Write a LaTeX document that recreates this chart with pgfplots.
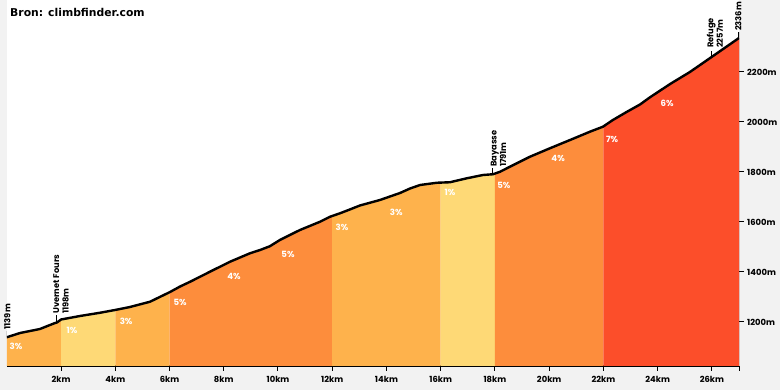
\documentclass[border=0pt]{standalone}
\usepackage{pgfplots}
\pgfplotsset{compat=1.18}
\usepackage{pgfplotstable}
\usepackage{fontspec}
\setmainfont{Poppins}
\newfontfamily\titlefont{DejaVu Sans}
\definecolor{bgc}{HTML}{F2F2F2}
\definecolor{cA}{HTML}{FEB24C}
\definecolor{cB}{HTML}{FED976}
\definecolor{cC}{HTML}{FD8D3C}
\definecolor{cD}{HTML}{FC4E2A}
\tikzset{wp/.style={rotate=90, font=\fontsize{8.3}{9.3}\selectfont\bfseries, inner sep=0pt, align=left, anchor=west, text=black}}

\pgfplotstableread{
km m
0 1139
0.49 1156
1.22 1172
1.78 1196
1.85 1198
2.0 1210
2.70 1224
3.44 1237
3.99 1248
4.54 1260
5.28 1281
6.02 1320
6.39 1342
6.76 1361
7.49 1401
8.23 1441
8.97 1475
9.34 1488
9.70 1503
10.07 1528
10.81 1568
11.55 1601
11.92 1621
12.29 1635
12.65 1650
13.02 1666
13.76 1688
14.50 1716
14.87 1734
15.24 1748
15.86 1757
16.34 1759
16.97 1775
17.56 1788
17.93 1791
18.19 1801
18.55 1821
19.29 1861
20.03 1895
20.77 1928
21.50 1961
21.98 1981
22.35 2008
22.87 2041
23.35 2070
23.72 2099
24.46 2152
25.19 2200
25.95 2257
27.0 2336
}\profile

\pgfplotstableread{
x y lab
0.34 1104 3
2.40 1168 1
4.40 1204 3
6.39 1280 5
8.38 1384 4
10.37 1472 5
12.36 1580 3
14.36 1640 3
16.34 1720 1
18.33 1748 5
20.33 1856 4
22.32 1932 7
24.35 2076 6
}\pct

\begin{document}
\begin{tikzpicture}[x=1pt,y=1pt]
\useasboundingbox (0,0) rectangle (780,390);
\fill[bgc] (0,0) rectangle (780,390);
\begin{axis}[
  at={(6.8pt,24pt)}, anchor=south west,
  scale only axis, width=732.2pt, height=366pt,
  xmin=0, xmax=27, ymin=1024, ymax=2488,
  clip mode=individual,
  axis background/.style={fill=white},
  axis x line*=bottom, axis y line*=right,
  y axis line style={draw=none},
  x axis line style={line width=1.2pt, black},
  tick align=outside,
  major tick length=5pt,
  tick style={black, line width=1pt},
  xtick={2,4,6,8,10,12,14,16,18,20,22,24,26},
  xticklabels={2km,4km,6km,8km,10km,12km,14km,16km,18km,20km,22km,24km,26km},
  extra x ticks={27}, extra x tick labels={},
  ytick={1200,1400,1600,1800,2000,2200},
  yticklabels={1200m,1400m,1600m,1800m,2000m,2200m},
  tick label style={font=\fontsize{8.4}{9}\selectfont\bfseries, text=black},
  xticklabel style={inner sep=2pt, yshift=-3pt},
  yticklabel style={inner sep=2pt, xshift=1pt},
]
% coloured gradient bands
\addplot[fill=cA, draw=none] coordinates {(0,1024) (0,1139) (0.49,1156) (1.22,1172) (1.78,1196) (1.85,1198) (2.0,1210) (2.0,1024)};
\addplot[fill=cB, draw=none] coordinates {(2.0,1024) (2.0,1210) (2.70,1224) (3.44,1237) (4.0,1248) (4.0,1024)};
\addplot[fill=cA, draw=none] coordinates {(4.0,1024) (4.0,1248) (4.54,1260) (5.28,1281) (6.0,1319) (6.0,1024)};
\addplot[fill=cC, draw=none] coordinates {(6.0,1024) (6.0,1319) (6.39,1342) (6.76,1361) (7.49,1401) (8.23,1441) (8.97,1475) (9.34,1488) (9.70,1503) (10.07,1528) (10.81,1568) (11.55,1601) (11.92,1621) (12.0,1624) (12.0,1024)};
\addplot[fill=cA, draw=none] coordinates {(12.0,1024) (12.0,1624) (12.29,1635) (12.65,1650) (13.02,1666) (13.76,1688) (14.50,1716) (14.87,1734) (15.24,1748) (15.86,1757) (16.0,1758) (16.0,1024)};
\addplot[fill=cB, draw=none] coordinates {(16.0,1024) (16.0,1758) (16.34,1759) (16.97,1775) (17.56,1788) (17.93,1791) (18.0,1794) (18.0,1024)};
\addplot[fill=cC, draw=none] coordinates {(18.0,1024) (18.0,1794) (18.19,1801) (18.55,1821) (19.29,1861) (20.03,1895) (20.77,1928) (21.50,1961) (21.98,1981) (22.0,1982) (22.0,1024)};
\addplot[fill=cD, draw=none] coordinates {(22.0,1024) (22.0,1982) (22.35,2008) (22.87,2041) (23.35,2070) (23.72,2099) (24.46,2152) (25.19,2200) (25.95,2257) (27.0,2336) (27.0,1024)};
\addplot[draw=black!75!red, line width=0.8pt] coordinates {(27,1024) (27,2336)};
\addplot[black, line width=2.4pt, line join=round, line cap=round] table[x=km, y=m] {\profile};
% percentage labels
\addplot[draw=none, mark=none, point meta=explicit symbolic,
  nodes near coords={\pgfplotspointmeta\%},
  every node near coord/.style={anchor=center, text=white, font=\fontsize{8.6}{9}\selectfont\bfseries}]
  table[x=x, y=y, meta=lab] {\pct};
% waypoint ticks
\addplot[black, line width=1.1pt] coordinates {(0.0,1139) (0.0,1163)};
\addplot[black, line width=1.1pt] coordinates {(1.84,1200) (1.84,1226)};
\addplot[black, line width=1.1pt] coordinates {(17.92,1793) (17.92,1814)};
\addplot[black, line width=1.1pt] coordinates {(25.97,2259) (25.97,2284)};
\addplot[black, line width=1.1pt] coordinates {(27,2338) (27,2358)};
% waypoint labels
\node[wp] at (axis cs:0.02,1170) {1139m};
\node[wp] at (axis cs:2.0,1232) {Uvernet Fours\\1198m};
\node[wp] at (axis cs:18.13,1820) {Bayasse\\1791m};
\node[wp] at (axis cs:26.11,2296) {Refuge\\2257m};
\node[wp] at (axis cs:26.97,2364) {2336m};
\end{axis}
\node[anchor=west, inner sep=0pt, font=\titlefont\bfseries\fontsize{10.8}{12}\selectfont] at (10pt,378pt) {Bron: climbfinder.com};
\end{tikzpicture}
\end{document}
